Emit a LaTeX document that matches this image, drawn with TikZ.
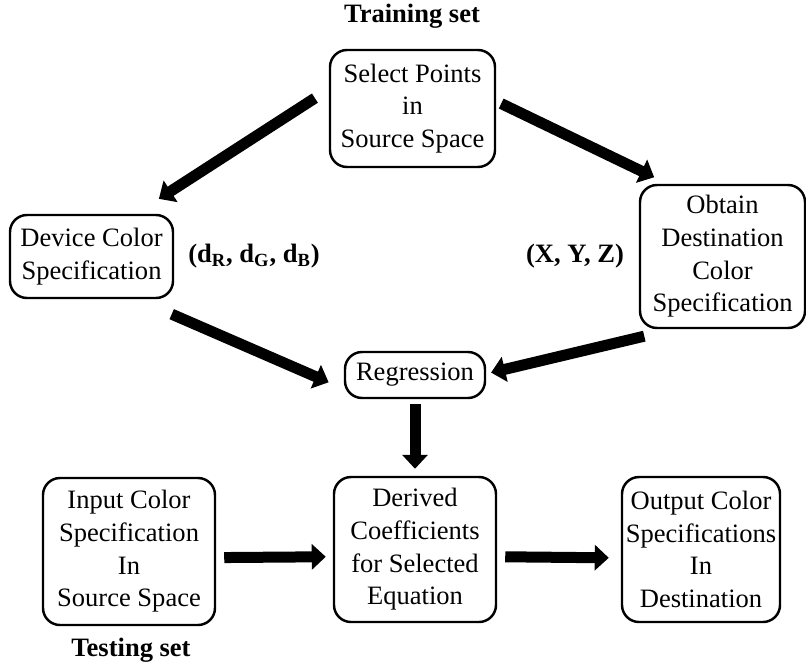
\documentclass[tikz,border=0pt]{standalone}
\usepackage{fontspec}
\setmainfont{Liberation Serif}
\usepackage{tikz}
\usetikzlibrary{arrows.meta}

\begin{document}
\begin{tikzpicture}[
    box/.style={draw, line width=1.4pt, rounded corners=0.34cm, align=center,
      inner xsep=0.05cm, inner ysep=0.1cm, font=\fontsize{15.1}{18.6}\selectfont},
    lbl/.style={font=\fontsize{15.1}{18.6}\selectfont\bfseries},
    fat/.style={line width=0.22cm, -{Triangle[length=0.28cm,width=0.5cm]}}
  ]
    \useasboundingbox (0,0) rectangle (16.12,-13.42);

    \node[lbl] (train) at (8.24,-0.32) {Training set};
    \node[box, minimum width=3.3cm, minimum height=2.34cm] (select) at (8.25,-2.17) {Select Points\\in\\Source Space};
    \node[box, minimum width=3.26cm, minimum height=1.66cm] (device) at (1.83,-5.13) {Device Color\\Specification};
    \node[box, minimum width=3.3cm, minimum height=2.86cm] (obtain) at (14.45,-5.13) {Obtain\\Destination\\Color\\Specification};
    \node[lbl] (drgb) at (5.08,-5.12) {(d\textsubscript{R}, d\textsubscript{G}, d\textsubscript{B})};
    \node[lbl] (xyz) at (11.5,-5.12) {(X, Y, Z)};
    \node[box, minimum width=2.8cm, minimum height=0.92cm] (regr) at (8.3,-7.5) {Regression};

    \node[box, minimum width=3.44cm, minimum height=2.94cm] (input) at (2.58,-11.03) {Input Color\\Specification\\In\\Source Space};
    \node[box, minimum width=3.24cm, minimum height=2.9cm] (derived) at (8.3,-10.99) {Derived\\Coefficients\\for Selected\\Equation};
    \node[box, minimum width=3.16cm, minimum height=2.9cm] (output) at (14.02,-10.99) {Output Color\\Specifications\\In\\Destination};
    \node[lbl] (test) at (2.62,-13.0) {Testing set};

    \draw[fat, shorten <=0.33cm, shorten >=0.55cm] (select.167) -- (device.44);
    \draw[fat, shorten <=0.11cm, shorten >=0.3cm] (select.5) -- (obtain.127);
    \draw[fat, shorten <=0.75cm, shorten >=0.33cm] (device.-43) -- (regr.191);
    \draw[fat, shorten <=0.6cm, shorten >=0.1cm] (obtain.236) -- (regr.1);
    \draw[fat, shorten <=0.1cm, shorten >=0.14cm] (regr.south) -- (derived.north);
    \draw[fat, shorten <=0.16cm, shorten >=0.14cm] (input.-4) -- (derived.185);
    \draw[fat, shorten <=0.16cm, shorten >=0.24cm] (derived.-5) -- (output.186);
\end{tikzpicture}
\end{document}
